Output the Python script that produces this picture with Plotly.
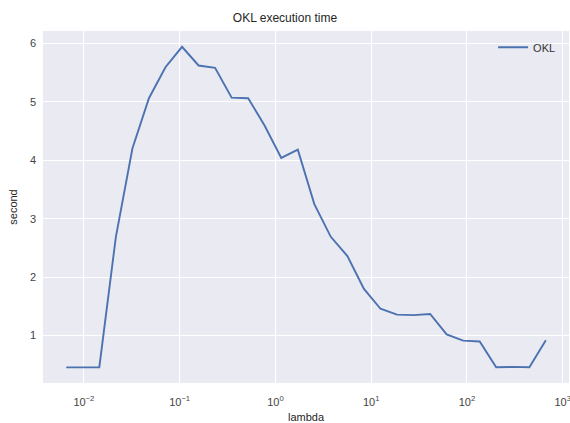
import plotly.graph_objects as go

lambdas = [0.00655, 0.00975, 0.01449, 0.02158, 0.03212, 0.04779, 0.0711, 0.1059,
           0.1577, 0.2344, 0.349, 0.520, 0.773, 1.151, 1.714, 2.55, 3.79, 5.65,
           8.41, 12.51, 18.6, 27.7, 41.3, 61.4, 91.4, 136, 202, 301, 449, 667]
seconds = [0.457, 0.457, 0.46, 2.69, 4.20, 5.06, 5.59, 5.94, 5.62, 5.58, 5.07, 5.06,
           4.59, 4.04, 4.18, 3.25, 2.69, 2.36, 1.80, 1.46, 1.36, 1.35, 1.37, 1.02,
           0.914, 0.90, 0.46, 0.465, 0.46, 0.92]
x_tick_vals = [0.01, 0.1, 1, 10, 100, 1000]
x_tick_text = ["10<sup>−2</sup>", "10<sup>−1</sup>", "10<sup>0</sup>",
               "10<sup>1</sup>", "10<sup>2</sup>", "10<sup>3</sup>"]
y_tick_vals = [1, 2, 3, 4, 5, 6]

fig = go.Figure()
fig.add_trace(go.Scatter(x=lambdas, y=seconds, mode="lines", name="OKL",
                         line=dict(color="#4C72B0", width=1.9)))

fig.update_layout(
    width=570, height=423,
    margin=dict(l=43, r=1, t=31, b=40, autoexpand=False),
    paper_bgcolor="white",
    plot_bgcolor="#EAEAF2",
    font=dict(family="Liberation Sans, Arial, sans-serif", size=11, color="#262626"),
    title=dict(text="OKL execution time", x=0.5, xanchor="center", y=0.957, yanchor="middle",
               font=dict(size=12, color="#262626")),
    showlegend=True,
    legend=dict(x=0.985, xanchor="right", y=0.995, yanchor="top",
                bgcolor="rgba(0,0,0,0)", font=dict(size=11, color="#333333")),
    xaxis=dict(type="log", range=[-2.427, 3.066], tickvals=x_tick_vals, ticktext=x_tick_text,
               automargin=False, ticklabeloverflow="allow", ticklabelstandoff=11,
               showgrid=True, gridcolor="white", gridwidth=1.2, zeroline=False,
               showline=False, ticks="", tickfont=dict(size=11, color="#444444"),
               title=dict(text="lambda", font=dict(size=11), standoff=8)),
    yaxis=dict(range=[0.19, 6.21], tickvals=y_tick_vals, automargin=False,
               ticklabelstandoff=6,
               showgrid=True, gridcolor="white", gridwidth=1.2, zeroline=False,
               showline=False, ticks="", tickfont=dict(size=11, color="#444444"),
               title=dict(text="second", font=dict(size=11), standoff=10)),
)

fig.write_html("out.html", config={"displayModeBar": False},
               post_script="document.body.style.margin='0';document.body.style.overflow='hidden';")
